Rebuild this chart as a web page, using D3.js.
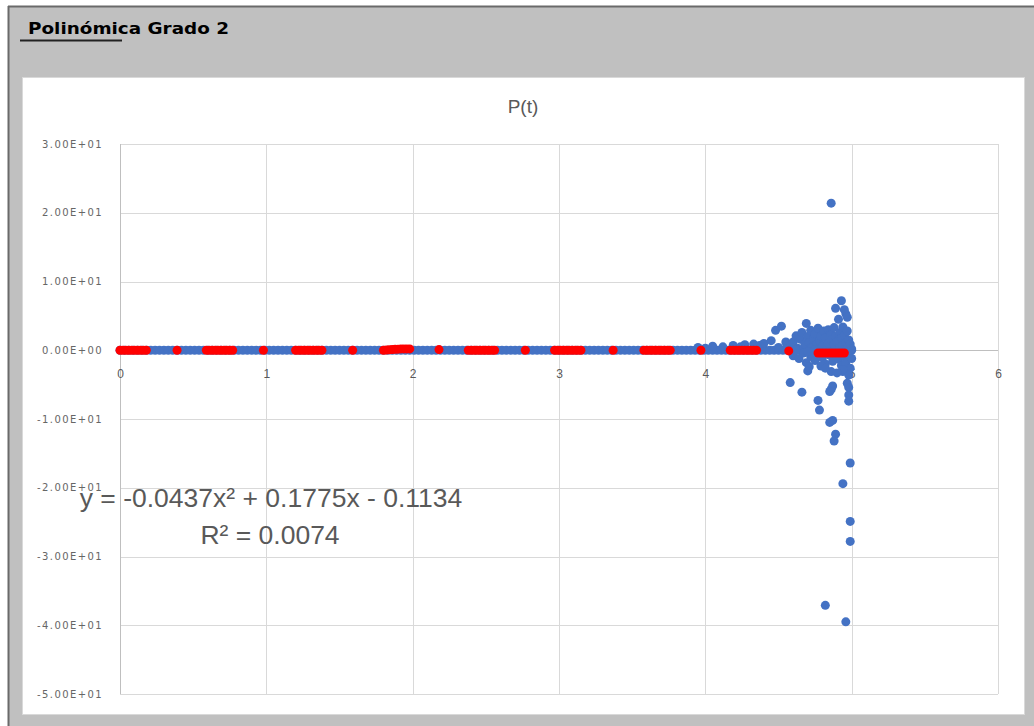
<!DOCTYPE html>
<html>
<head>
<meta charset="utf-8">
<script src="https://cdn.jsdelivr.net/npm/d3@7"></script>
<style>
  body { margin: 0; background: #fff; }
  svg { display: block; }
</style>
</head>
<body>
<script>
// tick values and labels
let xTicks = [0, 1, 2, 3, 4, 5, 6];
let yTicks = [30, 20, 10, 0, -10, -20, -30, -40, -50];
let yTickLabels = ["3.00E+01", "2.00E+01", "1.00E+01", "0.00E+00", "-1.00E+01", "-2.00E+01", "-3.00E+01", "-4.00E+01", "-5.00E+01"];

// blue series: dense band on zero (x only, y = 0)
let bandX = [0, 0.03, 0.06, 0.09, 0.12, 0.15, 0.18, 0.21, 0.24, 0.27, 0.3, 0.33, 0.36, 0.39, 0.42, 0.45, 0.48, 0.51, 0.54, 0.57,
  0.6, 0.63, 0.66, 0.69, 0.72, 0.75, 0.78, 0.81, 0.84, 0.87, 0.9, 0.93, 0.96, 0.99, 1.02, 1.05, 1.08, 1.11, 1.14, 1.17,
  1.2, 1.23, 1.26, 1.29, 1.32, 1.35, 1.38, 1.41, 1.44, 1.47, 1.5, 1.53, 1.56, 1.59, 1.62, 1.65, 1.68, 1.71, 1.74, 1.77,
  1.8, 1.83, 1.86, 1.89, 1.92, 1.95, 1.98, 2.01, 2.04, 2.07, 2.1, 2.13, 2.16, 2.19, 2.22, 2.25, 2.28, 2.31, 2.34, 2.37,
  2.4, 2.43, 2.46, 2.49, 2.52, 2.55, 2.58, 2.61, 2.64, 2.67, 2.7, 2.73, 2.76, 2.79, 2.82, 2.85, 2.88, 2.91, 2.94, 2.97,
  3.0, 3.03, 3.06, 3.09, 3.12, 3.15, 3.18, 3.21, 3.24, 3.27, 3.3, 3.33, 3.36, 3.39, 3.42, 3.45, 3.48, 3.51, 3.54, 3.57,
  3.6, 3.63, 3.66, 3.69, 3.72, 3.75, 3.78, 3.81, 3.84, 3.87, 3.9, 3.93, 3.96, 3.99, 4.02, 4.05, 4.08, 4.11, 4.14, 4.17,
  4.2, 4.23, 4.26, 4.29, 4.32, 4.35, 4.38, 4.41, 4.44, 4.47, 4.5, 4.53, 4.56, 4.59, 4.62, 4.65, 4.68, 4.71, 4.74, 4.77,
  4.8, 4.83, 4.86, 4.89, 4.92, 4.95, 4.98, 5.0];

// blue series: scattered points near the end
let blueX = [3.95, 4.0, 4.05, 4.12, 4.19, 4.24, 4.27, 4.33, 4.37, 4.4, 4.45, 4.48, 4.52, 4.55, 4.58,
  4.6, 4.6, 4.62, 4.63, 4.64, 4.65, 4.66, 4.67, 4.68, 4.69, 4.69, 4.7, 4.71, 4.72, 4.72, 4.73, 4.74, 4.75, 4.75, 4.76,
  4.77, 4.77, 4.78, 4.79, 4.8, 4.8, 4.81, 4.82, 4.82, 4.83, 4.84, 4.84, 4.85, 4.86, 4.86, 4.87, 4.88, 4.88, 4.89, 4.89,
  4.9, 4.91, 4.91, 4.92, 4.92, 4.93, 4.93, 4.94, 4.94, 4.95, 4.95, 4.96, 4.96, 4.97, 4.97, 4.98, 4.98, 4.99, 4.99, 5.0, 5.0,
  4.62, 4.7, 4.75, 4.55, 4.5,
  4.86, 4.93, 4.89, 4.96, 4.95, 4.97, 4.7, 4.79, 4.58, 4.66, 4.77, 4.78, 4.86, 4.87, 4.85, 4.85, 4.87, 4.89, 4.88,
  4.99, 4.94, 4.99, 4.99, 4.82, 4.96, 4.98, 4.98, 4.97, 4.94, 4.98, 4.86, 4.94, 4.98, 4.71, 4.82, 4.9];
let blueY = [0.4, 0.3, 0.6, 0.5, 0.7, 0.5, 0.8, 0.9, 0.7, 1.0, 1.4, 2.9, 3.5, 1.2, 0.6,
  1.2, -0.8, 2.1, 0.3, -1.2, 1.6, 2.6, -0.4, 0.9, 3.9, -1.8, 2.0, 1.1, -0.9, 2.9, 0.4, 1.7, -1.5, 2.4, 0.8,
  3.2, -0.3, 1.4, 2.1, -1.1, 0.6, 2.8, 1.8, -2.0, 0.2, 3.0, 1.0, -0.7, 2.3, 1.5, -1.6, 0.9, 3.3, 2.0, -0.5,
  1.3, 4.5, -1.3, 2.6, 0.4, -2.2, 1.8, 3.4, 0.7, -0.9, 2.2, 1.1, -1.8, 0.3, 2.8, -0.6, 1.5, -2.6, 0.9, -1.2, 0.2,
  0.0, -0.2, 0.1, 0.2, 0.4,
  21.4, 7.2, 6.1, 5.3, 5.9, 4.8, -3.0, -2.3, -4.7, -6.1, -7.3, -8.7, -5.7, -5.2, -6.0, -10.5, -10.2, -12.2, -13.2,
  -16.4, -19.4, -24.9, -27.8, -37.1, -39.5, -6.5, -7.4, -4.8, -3.1, -3.6, -3.1, -2.8, -5.4, -2.4, -2.6, -3.3];

// red series
let redX = [0, 0.02, 0.04, 0.06, 0.08, 0.1, 0.12, 0.14, 0.16, 0.18, 0.39,
  0.59, 0.61, 0.63, 0.65, 0.67, 0.69, 0.71, 0.73, 0.75, 0.77, 0.98,
  1.2, 1.22, 1.24, 1.26, 1.28, 1.3, 1.32, 1.34, 1.36, 1.38, 1.59,
  1.8, 1.82, 1.84, 1.86, 1.88, 1.9, 1.92, 1.94, 1.96, 1.98, 2.18,
  2.38, 2.4, 2.42, 2.44, 2.46, 2.48, 2.5, 2.52, 2.54, 2.56, 2.77,
  2.97, 2.99, 3.01, 3.03, 3.05, 3.07, 3.09, 3.11, 3.13, 3.15, 3.37,
  3.58, 3.6, 3.62, 3.64, 3.66, 3.68, 3.7, 3.72, 3.74, 3.76, 3.97,
  4.17, 4.19, 4.21, 4.23, 4.25, 4.27, 4.29, 4.31, 4.33, 4.35, 4.57,
  4.77, 4.79, 4.81, 4.83, 4.85, 4.87, 4.89, 4.91, 4.93, 4.95];
let redY = [0, 0, 0, 0, 0, 0, 0, 0, 0, 0, 0,
  0, 0, 0, 0, 0, 0, 0, 0, 0, 0, 0,
  0, 0, 0, 0, 0, 0, 0, 0, 0, 0, 0,
  0, 0.03, 0.06, 0.1, 0.13, 0.16, 0.2, 0.2, 0.2, 0.2, 0.1,
  0, 0, 0, 0, 0, 0, 0, 0, 0, 0, 0,
  0, 0, 0, 0, 0, 0, 0, 0, 0, 0, 0,
  0, 0, 0, 0, 0, 0, 0, 0, 0, 0, 0,
  0, 0, 0, 0, 0, 0, 0, 0, 0, 0, -0.1,
  -0.4, -0.4, -0.4, -0.4, -0.4, -0.4, -0.4, -0.4, -0.4, -0.4];

let chartTitle = "P(t)";
let eqText = "y = -0.0437x² + 0.1775x - 0.1134";
let r2Text = "R² = 0.0074";

let W = 1034, H = 726;

let svg = d3.select("body").append("svg")
  .attr("width", W).attr("height", H);

// outer window frame
svg.append("rect").attr("x", 0).attr("y", 0).attr("width", W).attr("height", H).attr("fill", "#fff");
svg.append("rect").attr("x", 8).attr("y", 6).attr("width", W - 8).attr("height", H - 6).attr("fill", "#c0c0c0");
svg.append("line").attr("x1", 8).attr("x2", W).attr("y1", 6.5).attr("y2", 6.5).attr("stroke", "#6a6a6a").attr("stroke-width", 2);
svg.append("line").attr("x1", 8.5).attr("x2", 8.5).attr("y1", 6).attr("y2", H).attr("stroke", "#6a6a6a").attr("stroke-width", 2);

svg.append("text").attr("x", 28).attr("y", 34)
  .attr("textLength", 201).attr("lengthAdjust", "spacingAndGlyphs")
  .style("font-family", "DejaVu Sans").style("font-weight", "bold").style("font-size", "16.5px")
  .attr("fill", "#000").text("Polinómica Grado 2");
svg.append("line").attr("x1", 20).attr("x2", 122).attr("y1", 40.5).attr("y2", 40.5)
  .attr("stroke", "#222").attr("stroke-width", 2);

// chart area
svg.append("rect").attr("x", 22.5).attr("y", 77.5).attr("width", 1002).attr("height", 637)
  .attr("fill", "#fff").attr("stroke", "#d9d9d9");

svg.append("text").attr("x", 523).attr("y", 113).attr("text-anchor", "middle")
  .style("font-family", "Liberation Sans, Arial").style("font-size", "19px")
  .attr("fill", "#595959").text(chartTitle);

// scales
let x = d3.scaleLinear().domain([0, 6]).range([120, 998]);
let y = d3.scaleLinear().domain([-50, 30]).range([694, 144]);

// grid
let grid = svg.append("g");
grid.selectAll(".hg").data(yTicks).enter().append("line")
  .attr("x1", x(0)).attr("x2", x(6))
  .attr("y1", d => Math.round(y(d)) + 0.5).attr("y2", d => Math.round(y(d)) + 0.5)
  .attr("stroke", d => d === 0 ? "#bfbfbf" : "#d9d9d9");
grid.selectAll(".vg").data(xTicks).enter().append("line")
  .attr("x1", d => Math.round(x(d)) + 0.5).attr("x2", d => Math.round(x(d)) + 0.5)
  .attr("y1", y(30)).attr("y2", y(-50))
  .attr("stroke", d => d === 0 ? "#bfbfbf" : "#d9d9d9");

// axes (labels only)
let yAxis = svg.append("g").attr("transform", "translate(121,0)")
  .call(d3.axisLeft(y).tickValues(yTicks).tickSize(0).tickPadding(18)
    .tickFormat((d, i) => yTickLabels[i]));
yAxis.select(".domain").remove();
yAxis.selectAll("text")
  .style("font-family", "DejaVu Sans").style("font-size", "10px")
  .style("letter-spacing", "1.4px").attr("fill", "#666");

let xAxis = svg.append("g").attr("transform", `translate(0,${y(0)})`)
  .call(d3.axisBottom(x).tickValues(xTicks).tickSize(0).tickPadding(19).tickFormat(d3.format("d")));
xAxis.select(".domain").remove();
xAxis.selectAll("text")
  .style("font-family", "Liberation Sans, Arial").style("font-size", "12px").attr("fill", "#595959");

// points
let dots = svg.append("g");
dots.selectAll(".band").data(bandX).enter().append("circle")
  .attr("cx", d => x(d)).attr("cy", y(0)).attr("r", 4.5).attr("fill", "#4472c4");
dots.selectAll(".blue").data(blueX).enter().append("circle")
  .attr("cx", d => x(d)).attr("cy", (d, i) => y(blueY[i])).attr("r", 4.5).attr("fill", "#4472c4");
dots.selectAll(".red").data(redX).enter().append("circle")
  .attr("cx", d => x(d)).attr("cy", (d, i) => y(redY[i])).attr("r", 4.5).attr("fill", "#ff0000");

// trendline label
svg.append("text").attr("x", 271).attr("y", 507).attr("text-anchor", "middle")
  .style("font-family", "Liberation Sans, Arial").style("font-size", "26.5px")
  .attr("fill", "#595959").text(eqText);
svg.append("text").attr("x", 270).attr("y", 544).attr("text-anchor", "middle")
  .style("font-family", "Liberation Sans, Arial").style("font-size", "26.5px")
  .attr("fill", "#595959").text(r2Text);
</script>
</body>
</html>
